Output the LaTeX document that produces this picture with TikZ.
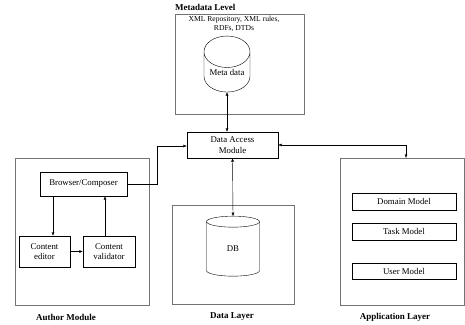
\documentclass[tikz,border=0pt]{standalone}
\usepackage{fontspec}
\setmainfont{Liberation Serif}
\usetikzlibrary{shapes.geometric,arrows.meta,positioning,calc}

\begin{document}
\begin{tikzpicture}[
  x=1pt, y=-1pt,
  font=\fontsize{8.8}{10.5}\selectfont,
  layer/.style={draw=black!55, thin},
  box/.style={draw, thin, align=center, inner sep=1pt},
  store/.style={draw, thin, cylinder, shape border rotate=90, aspect=0.9,
                align=center, inner sep=0pt, outer sep=0pt},
  title/.style={font=\fontsize{9}{10}\selectfont\bfseries},
  arr/.style={-{Latex[length=3.5pt,width=3pt]}, thin},
  darr/.style={{Latex[length=3.5pt,width=3pt]}-{Latex[length=3.5pt,width=3pt]}, thin}
]
\useasboundingbox (0,0) rectangle (465,324);

% Metadata level
\draw[layer] (175,14) rectangle (304,114);
\node[title, anchor=south west, inner sep=0pt] (metatitle) at (175,11) {Metadata Level};
\node[align=center, inner sep=0pt, font=\fontsize{7.6}{8.6}\selectfont] (metatext) at (234,24) {XML Repository, XML rules,\\RDFs, DTDs};
\node[store, minimum width=46pt, minimum height=56pt] (meta) at (227,72) {Meta data};

% Data access
\node[box, minimum width=91pt, minimum height=26pt] (dam) at (232.5,145) {Data Access\\Module};

% Author module
\draw[layer] (15,158) rectangle (149,305);
\node[title] (authortitle) at (66,317) {Author Module};
\node[box, minimum width=87pt, minimum height=24pt] (browser) at (83.5,184) {Browser/Composer};
\node[box, minimum width=51pt, minimum height=31pt] (editor) at (44.5,251.5) {Content\\editor};
\node[box, minimum width=52pt, minimum height=31pt] (validator) at (109,251.5) {Content\\validator};

% Data layer
\draw[layer] (172,205) rectangle (294,304);
\node[title] (datatitle) at (232,317) {Data Layer};
\node[store, minimum width=53pt, minimum height=60pt] (db) at (233,249) {DB};

% Application layer
\draw[layer] (340,158) rectangle (464,305);
\node[title] (apptitle) at (395,317) {Application Layer};
\node[box, minimum width=104pt, minimum height=17pt] (domain) at (404,201.5) {Domain Model};
\node[box, minimum width=104pt, minimum height=17pt] (task) at (404,231.5) {Task Model};
\node[box, minimum width=104pt, minimum height=16pt] (user) at (404,271) {User Model};
\coordinate (apptop) at (406,158);

% Connectors
\draw[darr] (meta.bottom) -- (meta.bottom |- dam.north);
\draw[darr] (dam.south) -- (db.top);
\draw[arr] (browser.east) -- (157,184) |- ($(dam.west)+(0,1)$);
\draw[darr] (apptop) |- (dam.east);
\draw[arr] ($(browser.south)+(-30.5,0)$) -- ($(editor.north)+(8.5,0)$);
\draw[arr] (editor) -- (validator);
\draw[arr] (validator.north -| 105,0) -- (browser.south -| 105,0);

\end{tikzpicture}
\end{document}
